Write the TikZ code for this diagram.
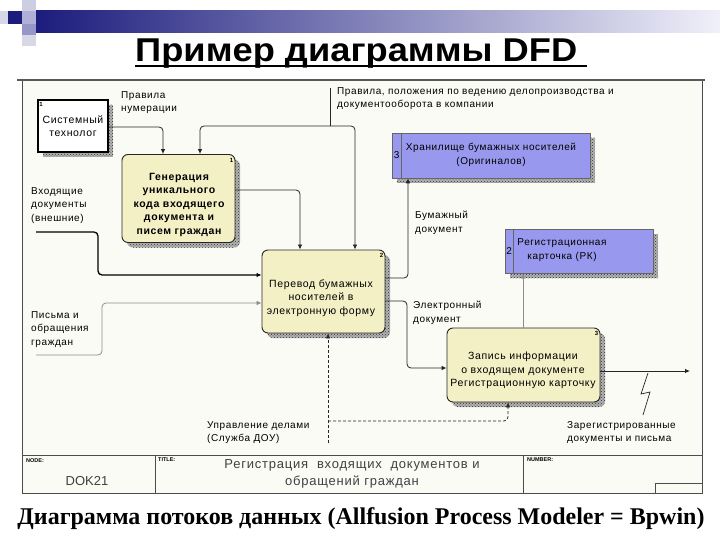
\documentclass[tikz,border=0pt]{standalone}
\usepackage{fontspec}
\setmainfont{Liberation Sans}
\newfontfamily\capfont{Liberation Serif}
\newfontfamily\dfdfont[LetterSpace=6]{Liberation Sans}
\usetikzlibrary{arrows.meta,patterns,shadows,calc}
\definecolor{boxfill}{RGB}{244,240,198}
\definecolor{storefill}{RGB}{152,152,238}
\definecolor{areafill}{RGB}{251,251,245}
\definecolor{navy}{RGB}{28,28,125}
\definecolor{barlight}{RGB}{240,240,250}
\definecolor{sqA}{RGB}{205,205,228}
\definecolor{sqB}{RGB}{175,175,215}
\definecolor{sqC}{RGB}{150,150,200}
\definecolor{sqD}{RGB}{215,215,232}
\newcommand\lblfont{\dfdfont\fontsize{10}{13.5}\selectfont}
\newcommand\procfont{\dfdfont\fontsize{10.5}{13.5}\selectfont}
\newcommand\tagfont{\fontsize{6}{6}\selectfont}
\tikzset{
  hatch/.style={general shadow={shadow xshift=5pt, shadow yshift=-5pt, fill=black!30, postaction={pattern=crosshatch dots, pattern color=black!80}}},
  procbox/.style={draw=black!85, line width=0.9pt, fill=boxfill, rounded corners=6pt, inner sep=0pt, hatch},
  proctext/.style={align=center, inner sep=0pt, font=\procfont},
  storebox/.style={draw=black!60, line width=0.8pt, fill=storefill, inner sep=0pt, hatch},
  extbox/.style={draw=black, line width=1.8pt, fill=white, inner sep=0pt, align=center, font=\procfont, hatch},
  flow/.style={draw=black!85, line width=0.8pt, rounded corners=4pt, -{Latex[length=5pt,width=4.5pt]}},
  grayflow/.style={flow, draw=black!45},
  plainline/.style={draw=black!85, line width=0.8pt},
  lbl/.style={anchor=north west, align=left, inner sep=0pt, font=\lblfont},
  storetext/.style={align=center, inner sep=0pt, font=\lblfont},
  numtag/.style={inner sep=0pt, font=\tagfont\bfseries},
  blocktag/.style={anchor=north west, inner sep=0pt, font=\fontsize{5.5}{6}\selectfont\bfseries},
}
\begin{document}
\begin{tikzpicture}[x=1pt,y=-1pt]
\useasboundingbox (0,0) rectangle (720,540);
\fill[white] (0,0) rectangle (720,540);
% ---------- header decoration
\fill[left color=navy, right color=barlight] (36,11) rectangle (720,33);
\fill[sqA] (22,0) rectangle (36,11);
\fill[navy] (8,11) rectangle (22,24);
\fill[sqD] (0,11) rectangle (8,24);
\fill[sqB] (22,11) rectangle (36,24);
\fill[sqC] (22,24) rectangle (36,35);
\fill[sqD] (22,35) rectangle (36,46);
% ---------- title
\node[inner sep=0pt, anchor=base west, font=\fontsize{33}{33}\selectfont\bfseries] (title) at (135,62)
  {\resizebox{442pt}{\height}{Пример диаграммы DFD}};
\draw[line width=2pt] ($(title.base west)+(0,4)$) -- ($(title.base east)+(10,4)$);
% ---------- diagram frame
\fill[areafill] (22,80) rectangle (702,493);
\draw[black!70, line width=1pt] (22,80) rectangle (702,493);
\draw[black!65, line width=2.5pt] (17,80) -- (705,80);
\draw[black!70, line width=1pt] (22,455) -- (702,455);
\draw[black!70, line width=1pt] (155,455) -- (155,493);
\draw[black!70, line width=1pt] (523,455) -- (523,493);
\draw[black!70, line width=1pt] (655,493) -- (655,483) -- (702,483);
\node[blocktag] at (26,458) {NODE:};
\node[blocktag] at (158,458) {TITLE:};
\node[blocktag] at (527,458) {NUMBER:};
\node[font=\fontsize{13}{13}\selectfont, text=black!75, inner sep=0pt] (nodeid) at (87,481) {DOK21};
\node[align=center, inner sep=0pt, font=\fontsize{13}{17}\selectfont\addfontfeature{LetterSpace=6}, text=black!75] (dtitle) at (352,474)
  {Регистрация\ \ входящих\ \ документов и\\обращений граждан};
% ---------- nodes
\node[extbox, minimum width=70pt, minimum height=52pt] (ext) at (73,126) {Системный\\технолог};
\node[numtag] at ($(ext.north west)+(4,5)$) {1};
\node[procbox, minimum width=113pt, minimum height=88pt] (box1) at (178.5,198.5) {};
\node[proctext, font=\procfont\bfseries] (b1text) at (179,204.5)
  {Генерация\\уникального\\кода входящего\\документа и\\писем граждан};
\node[numtag] at ($(box1.north east)+(-4,6)$) {1};
\node[procbox, minimum width=123pt, minimum height=83pt] (box2) at (323.5,291.5) {};
\node[proctext] (b2text) at (321,298) {Перевод бумажных\\носителей в\\электронную форму};
\node[numtag] at ($(box2.north east)+(-4,6)$) {2};
\node[procbox, minimum width=153pt, minimum height=74pt] (box3) at (523.5,365) {};
\node[proctext] (b3text) at (523,370.5) {Запись информации\\о входящем документе\\Регистрационную карточку};
\node[numtag] at ($(box3.north east)+(-4,6)$) {3};
\node[storebox, minimum width=198pt, minimum height=45pt] (store1) at (491,155.5) {};
\draw[black!60, line width=0.8pt] ($(store1.north west)+(10,0)$) -- ($(store1.south west)+(10,0)$);
\node[font=\lblfont, inner sep=0pt] at ($(store1.west)+(5,0)$) {3};
\node[storetext] (s1text) at (491,155) {Хранилище бумажных носителей\\(Оригиналов)};
\node[storebox, minimum width=148pt, minimum height=44pt] (store2) at (579,251) {};
\draw[black!60, line width=0.8pt] ($(store2.north west)+(9,0)$) -- ($(store2.south west)+(9,0)$);
\node[font=\lblfont, inner sep=0pt] at ($(store2.west)+(4.5,0)$) {2};
\node[storetext] (s2text) at (562,250) {Регистрационная\\карточка (РК)};
% ---------- connectors
\coordinate (rulesTop) at (330,88);
\coordinate (cj) at (330,126);
\draw[flow] (ext.east |- 0,127) -| (163,0 |- box1.north);
\draw[plainline] (rulesTop) -- (cj);
\draw[flow] (cj) -| (200,0 |- box1.north);
\draw[flow] (cj) -| (355,0 |- box2.north);
\draw[flow] (box1.east |- 0,190) -| (300,0 |- box2.north);
\coordinate (inA) at (36,232);
\draw[flow, line width=1.3pt, draw=black] (inA) -| (98,275) -- (box2.west |- 0,275);
\coordinate (inB) at (36,355);
\draw[grayflow] (inB) -| (102,303) -- (box2.west |- 0,303);
\draw[flow] (box2.east |- 0,278) -| (408,0 |- store1.south);
\draw[flow] (box2.east |- 0,301) -| (407,368) -- (box3.west |- 0,368);
\draw[grayflow] (523,0 |- box3.north) -- (523,0 |- store2.south);
\coordinate (outA) at (690,371);
\draw[flow] (box3.east |- 0,371) -- (outA);
\coordinate (z1) at (648,373);
\coordinate (z2) at (641,394);
\coordinate (z3) at (650,392);
\coordinate (z4) at (643,415);
\draw[black!85, line width=0.7pt] (z1) -- (z2) -- (z3) -- (z4);
\coordinate (dA) at (328,443);
\coordinate (dj) at (328,421);
\draw[flow, dash pattern=on 3pt off 2pt, rounded corners=0pt] (dA) -- (328,0 |- box2.south);
\draw[flow, dash pattern=on 3pt off 2pt] (dj) -| (508,0 |- box3.south);
% ---------- labels
\node[lbl] (l1) at (121,91) {Правила\\нумерации};
\node[lbl] (l2) at (337,87) {Правила, положения по ведению делопроизводства и\\документооборота в компании};
\node[lbl] (l3) at (31,187) {Входящие\\документы\\(внешние)};
\node[lbl] (l4) at (31,311) {Письма и\\обращения\\граждан};
\node[lbl] (l5) at (415,211) {Бумажный\\документ};
\node[lbl] (l6) at (413,301) {Электронный\\документ};
\node[lbl] (l7) at (207,421) {Управление делами\\(Служба ДОУ)};
\node[lbl] (l8) at (567,421) {Зарегистрированные\\документы и письма};
% ---------- caption
\node[inner sep=0pt, anchor=base, font=\capfont\fontsize{24}{24}\selectfont\bfseries] (caption) at (361,524)
  {\resizebox{687pt}{\height}{Диаграмма потоков данных (Allfusion Process Modeler = Bpwin)}};
\end{tikzpicture}
\end{document}
